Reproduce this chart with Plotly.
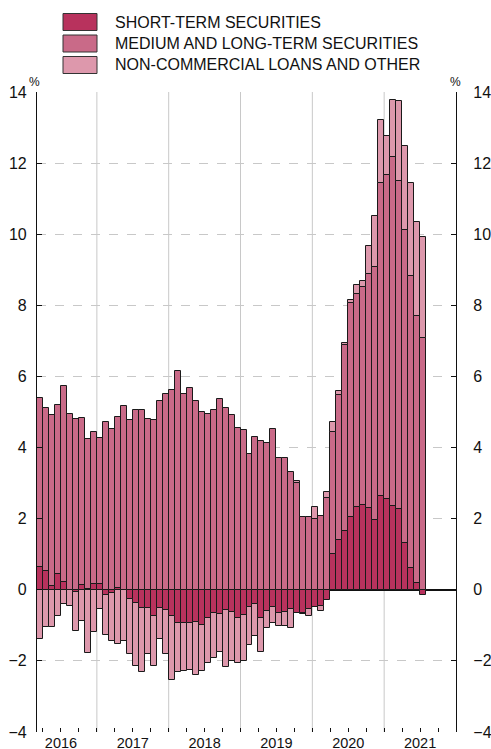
import plotly.graph_objects as go

# ---- data (monthly, Mar 2016 – Jul 2021) ----
years = [2016] * 10 + [2017] * 12 + [2018] * 12 + [2019] * 12 + [2020] * 12 + [2021] * 7
months = list(range(3, 13)) + list(range(1, 13)) * 4 + list(range(1, 8))

short_term = [
    0.64, 0.53, 0.12, 0.45, 0.21, -0.02, -0.05, 0.14, 0.02, 0.17,
    0.17, -0.15, -0.08, 0.05, 0.00, -0.26, -0.36, -0.50, -0.50, -0.73, -0.52, -0.58,
    -0.73, -0.94, -0.94, -0.94, -0.92, -0.98, -0.78, -0.66, -0.68, -0.56, -0.63, -0.78,
    -0.70, -0.49, -0.40, -0.80, -0.61, -0.49, -0.66, -0.63, -0.54, -0.66, -0.66, -0.54,
    -0.49, -0.47, -0.30, 1.01, 1.40, 1.64, 2.06, 2.32, 2.38, 2.31, 1.97, 2.64,
    2.55, 2.37, 2.27, 1.31, 0.61, 0.19, -0.15,
]
medium_long = [
    4.74, 4.59, 4.80, 4.75, 5.53, 4.93, 4.79, 4.70, 4.21, 4.26,
    4.11, 4.73, 4.51, 4.81, 5.17, 4.77, 5.06, 5.07, 4.79, 4.77, 5.31, 5.50,
    5.62, 6.15, 5.52, 5.68, 5.32, 5.01, 4.93, 5.07, 5.37, 5.10, 4.91, 4.54,
    4.49, 3.81, 4.30, 4.18, 4.12, 4.53, 3.72, 3.72, 3.32, 3.00, 2.04, 2.06,
    1.98, 2.08, 2.59, 3.43, 4.08, 5.24, 6.01, 6.01, 6.13, 6.56, 7.12, 8.80,
    9.11, 9.81, 9.23, 8.80, 8.21, 7.50, 7.09,
]
loans_other = [
    -1.39, -1.06, -1.05, -0.73, -0.40, -0.43, -1.12, -0.88, -1.78, -1.19,
    -0.54, -1.12, -1.35, -1.53, -1.43, -1.55, -1.77, -1.81, -1.31, -1.40, -0.87, -1.23,
    -1.82, -1.37, -1.35, -1.31, -1.48, -1.30, -1.28, -1.26, -1.07, -1.61, -1.38, -1.28,
    -1.29, -1.05, -0.91, -0.95, -0.47, -0.45, -0.37, -0.40, -0.54, 0.06, -0.02, -0.19,
    0.36, -0.13, 0.15, 0.28, 0.11, 0.05, 0.07, 0.23, 0.17, 0.80, 1.41, 1.77,
    1.11, 1.60, 2.26, 2.36, 2.61, 2.66, 2.84,
]
series_names = ["SHORT-TERM SECURITIES", "MEDIUM AND LONG-TERM SECURITIES",
                "NON-COMMERCIAL LOANS AND OTHER"]
year_labels = ["2016", "2017", "2018", "2019", "2020", "2021"]
y_ticks = [-4, -2, 0, 2, 4, 6, 8, 10, 12, 14]

colors = ["#B8325D", "#C96A88", "#DD98AC"]
FONT = "Liberation Sans, Arial, sans-serif"

# month position on a numeric axis: Jan 2016 = 0, bar centred in its month
xpos = [(y - 2016) * 12 + (m - 1) + 0.5 for y, m in zip(years, months)]

fig = go.Figure()
for vals, name, col in zip([short_term, medium_long, loans_other], series_names, colors):
    fig.add_trace(go.Bar(x=xpos, y=vals, name=name, width=1,
                         marker=dict(color=col, line=dict(color="#1A1A1A", width=1)),
                         showlegend=False, hoverinfo="skip"))
# invisible companion so the right-hand axis is drawn
fig.add_trace(go.Scatter(x=[xpos[0]], y=[y_ticks[0]], yaxis="y2", mode="markers",
                         marker=dict(opacity=0), hoverinfo="skip", showlegend=False))

# plot-area geometry (pixels)
W, H = 491, 749
L_, R_, T_, B_ = 37, 35, 92, 17
pw, ph = W - L_ - R_, H - T_ - B_


def px(xp):
    return (xp - L_) / pw


def py(yp):
    return 1 + (T_ - yp) / ph


x_min, x_max = 2, 72
quarter_ticks = list(range(3, 72, 3))
tick_text = []
for q in quarter_ticks:
    if q % 12 == 6:
        tick_text.append(year_labels[q // 12])
    else:
        tick_text.append("")

shapes = []
for yb in range(12, 72, 12):
    shapes.append(dict(type="line", xref="x", yref="paper", x0=yb, x1=yb, y0=0, y1=1,
                       line=dict(color="#C8C8C8", width=1), layer="below"))

annotations = []
# manual legend
leg_y = [22, 43.5, 65]
for name, col, yc in zip(series_names, colors, leg_y):
    shapes.append(dict(type="rect", xref="paper", yref="paper",
                       x0=px(63), x1=px(97), y0=py(yc + 8.5), y1=py(yc - 8.5),
                       fillcolor=col, line=dict(color="#333333", width=1)))
    annotations.append(dict(xref="paper", yref="paper", x=px(113), y=py(yc),
                            xanchor="left", yanchor="middle", text=name, showarrow=False,
                            font=dict(family=FONT, size=16, color="#111111")))
# percent signs
for xc in (34.5, 455.5):
    annotations.append(dict(xref="paper", yref="paper", x=px(xc), y=py(82),
                            xanchor="center", yanchor="middle", text="%", showarrow=False,
                            font=dict(family=FONT, size=12, color="#111111")))

fig.update_layout(
    width=W, height=H,
    margin=dict(l=L_, r=R_, t=T_, b=B_, autoexpand=False),
    paper_bgcolor="white", plot_bgcolor="white",
    barmode="relative", bargap=0,
    font=dict(family=FONT, size=15, color="#111111"),
    shapes=shapes, annotations=annotations,
    xaxis=dict(range=[x_min, x_max], tickmode="array", tickvals=quarter_ticks,
               ticktext=tick_text, ticks="inside", ticklen=4, tickcolor="#111111",
               showgrid=False, zeroline=False, showline=False, automargin=False,
               tickfont=dict(family=FONT, size=14.5), ticklabelstandoff=0),
    yaxis=dict(range=[-4, 14], tickmode="array", tickvals=y_ticks, ticks="inside",
               ticklen=5, tickcolor="#111111", showline=True, linecolor="#111111",
               linewidth=1.2, showgrid=True, gridcolor="#C8C8C8", griddash="dash",
               zeroline=True, zerolinecolor="#111111", zerolinewidth=1.5,
               automargin=False, tickfont=dict(family=FONT, size=16),
               ticklabelstandoff=6),
    yaxis2=dict(range=[-4, 14], overlaying="y", side="right", tickmode="array",
                tickvals=y_ticks, ticks="inside", ticklen=5, tickcolor="#111111",
                showline=True, linecolor="#111111", linewidth=1.2, showgrid=False,
                zeroline=False, automargin=False, tickfont=dict(family=FONT, size=16),
                ticklabelstandoff=13),
)

fig.write_html("out.html",
               config={"displayModeBar": False},
               post_script="document.body.style.margin='0';"
                           "document.body.style.overflow='hidden';")
